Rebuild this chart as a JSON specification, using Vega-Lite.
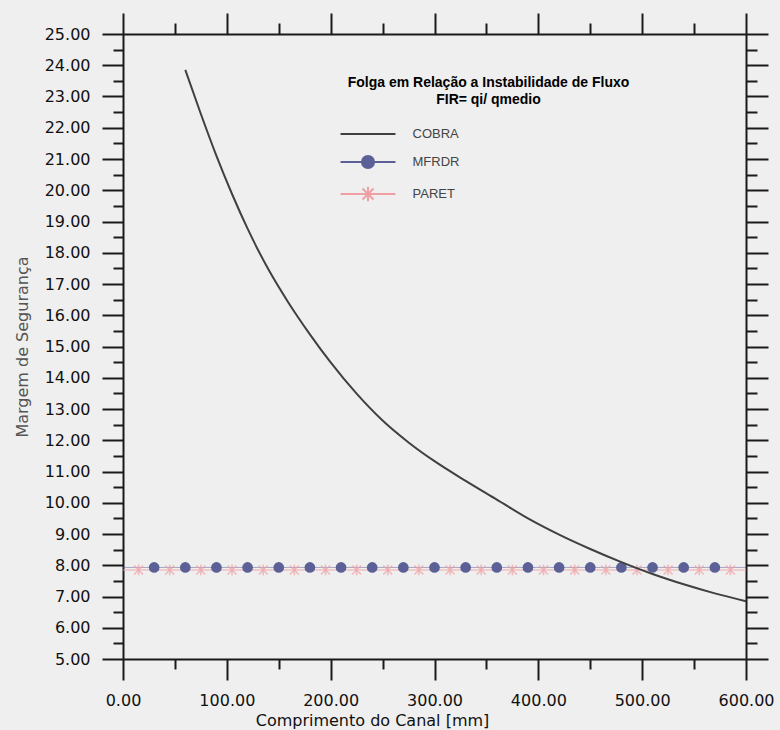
{
  "$schema": "https://vega.github.io/schema/vega-lite/v6.json",
  "width": 623,
  "height": 625,
  "autosize": {"type": "none"},
  "padding": {"left": 123, "top": 34, "right": 34, "bottom": 71},
  "background": "#efefef",
  "config": {"view": {"stroke": null}, "axis": {"grid": false}},
  "data": {"values": [
    {"series": "COBRA", "x": 60, "y": 23.85},
    {"series": "COBRA", "x": 75, "y": 22.44},
    {"series": "COBRA", "x": 90, "y": 21.1},
    {"series": "COBRA", "x": 105, "y": 19.88},
    {"series": "COBRA", "x": 120, "y": 18.77},
    {"series": "COBRA", "x": 140, "y": 17.47},
    {"series": "COBRA", "x": 160, "y": 16.37},
    {"series": "COBRA", "x": 180, "y": 15.39},
    {"series": "COBRA", "x": 200, "y": 14.49},
    {"series": "COBRA", "x": 225, "y": 13.49},
    {"series": "COBRA", "x": 250, "y": 12.63},
    {"series": "COBRA", "x": 275, "y": 11.93},
    {"series": "COBRA", "x": 300, "y": 11.33},
    {"series": "COBRA", "x": 330, "y": 10.7},
    {"series": "COBRA", "x": 360, "y": 10.1},
    {"series": "COBRA", "x": 390, "y": 9.5},
    {"series": "COBRA", "x": 420, "y": 8.98},
    {"series": "COBRA", "x": 450, "y": 8.52},
    {"series": "COBRA", "x": 480, "y": 8.1},
    {"series": "COBRA", "x": 510, "y": 7.72},
    {"series": "COBRA", "x": 540, "y": 7.39},
    {"series": "COBRA", "x": 570, "y": 7.1},
    {"series": "COBRA", "x": 600, "y": 6.85},
    {"series": "MFRDR", "x": 0, "y": 7.93},
    {"series": "MFRDR", "x": 30, "y": 7.93},
    {"series": "MFRDR", "x": 60, "y": 7.93},
    {"series": "MFRDR", "x": 90, "y": 7.93},
    {"series": "MFRDR", "x": 120, "y": 7.93},
    {"series": "MFRDR", "x": 150, "y": 7.93},
    {"series": "MFRDR", "x": 180, "y": 7.93},
    {"series": "MFRDR", "x": 210, "y": 7.93},
    {"series": "MFRDR", "x": 240, "y": 7.93},
    {"series": "MFRDR", "x": 270, "y": 7.93},
    {"series": "MFRDR", "x": 300, "y": 7.93},
    {"series": "MFRDR", "x": 330, "y": 7.93},
    {"series": "MFRDR", "x": 360, "y": 7.93},
    {"series": "MFRDR", "x": 390, "y": 7.93},
    {"series": "MFRDR", "x": 420, "y": 7.93},
    {"series": "MFRDR", "x": 450, "y": 7.93},
    {"series": "MFRDR", "x": 480, "y": 7.93},
    {"series": "MFRDR", "x": 510, "y": 7.93},
    {"series": "MFRDR", "x": 540, "y": 7.93},
    {"series": "MFRDR", "x": 570, "y": 7.93},
    {"series": "MFRDR", "x": 600, "y": 7.93},
    {"series": "PARET", "x": 0, "y": 7.85},
    {"series": "PARET", "x": 15, "y": 7.85},
    {"series": "PARET", "x": 45, "y": 7.85},
    {"series": "PARET", "x": 75, "y": 7.85},
    {"series": "PARET", "x": 105, "y": 7.85},
    {"series": "PARET", "x": 135, "y": 7.85},
    {"series": "PARET", "x": 165, "y": 7.85},
    {"series": "PARET", "x": 195, "y": 7.85},
    {"series": "PARET", "x": 225, "y": 7.85},
    {"series": "PARET", "x": 255, "y": 7.85},
    {"series": "PARET", "x": 285, "y": 7.85},
    {"series": "PARET", "x": 315, "y": 7.85},
    {"series": "PARET", "x": 345, "y": 7.85},
    {"series": "PARET", "x": 375, "y": 7.85},
    {"series": "PARET", "x": 405, "y": 7.85},
    {"series": "PARET", "x": 435, "y": 7.85},
    {"series": "PARET", "x": 465, "y": 7.85},
    {"series": "PARET", "x": 495, "y": 7.85},
    {"series": "PARET", "x": 525, "y": 7.85},
    {"series": "PARET", "x": 555, "y": 7.85},
    {"series": "PARET", "x": 585, "y": 7.85},
    {"series": "PARET", "x": 600, "y": 7.85}
  ]},
  "encoding": {
    "color": {
      "field": "series",
      "type": "nominal",
      "scale": {"domain": ["COBRA", "MFRDR", "PARET"], "range": ["#404040", "#5b6096", "#f0a0a4"]},
      "legend": {
        "orient": "none",
        "legendX": 225,
        "legendY": 42,
        "padding": 0,
        "title": ["Folga em Relação a Instabilidade de Fluxo", "FIR= qi/ qmedio"],
        "titleFont": "Liberation Sans",
        "titleFontSize": 14,
        "titleFontWeight": "bold",
        "titleColor": "#000000",
        "titleLineHeight": 17,
        "titleAnchor": "start",
        "titleAlign": "center",
        "titlePadding": 12,
        "titleLimit": 500,
        "labelFont": "Liberation Sans",
        "labelFontSize": 13,
        "labelColor": "#444444",
        "symbolSize": 100,
        "rowPadding": 6,
        "labelOffset": 29.5,
        "encode": {
          "title": {"update": {"dx": {"value": 135.5}}},
          "symbols": {"update": {
            "shape": {"signal": "datum.value === 'COBRA' ? 'M-2,0H2' : datum.value === 'MFRDR' ? 'M-2,0H2M0.44,0A0.44,0.44 0 1,1 -0.44,0A0.44,0.44 0 1,1 0.44,0Z' : 'M-2,0H2M-0.4,-0.4L0.4,0.4M-0.4,0.4L0.4,-0.4M0,-0.52V0.52'"},
            "size": {"value": 756},
            "strokeWidth": {"value": 2},
            "opacity": {"value": 1}
          }}
        }
      }
    }
  },
  "layer": [
    {
      "transform": [{"filter": "datum.series === 'MFRDR'"}],
      "mark": {"type": "line", "strokeWidth": 1, "opacity": 0.5},
      "encoding": {
        "x": {"field": "x", "type": "quantitative", "scale": {"domain": [0, 600], "nice": false, "zero": false},
          "axis": {"orient": "top", "values": [0,50,100,150,200,250,300,350,400,450,500,550,600], "labels": false, "title": null,
            "tickSize": {"condition": {"test": "datum.value % 100 === 0", "value": 21}, "value": 11},
            "tickWidth": 2, "tickColor": "#1a1a1a", "domainColor": "#1a1a1a", "domainWidth": 2}},
        "y": {"field": "y", "type": "quantitative", "scale": {"domain": [5, 25], "nice": false, "zero": false},
          "axis": {"orient": "right", "values": [5,5.5,6,6.5,7,7.5,8,8.5,9,9.5,10,10.5,11,11.5,12,12.5,13,13.5,14,14.5,15,15.5,16,16.5,17,17.5,18,18.5,19,19.5,20,20.5,21,21.5,22,22.5,23,23.5,24,24.5,25], "labels": false, "title": null,
            "tickSize": {"condition": {"test": "datum.value % 1 === 0", "value": 22}, "value": 11},
            "tickWidth": 2, "tickColor": "#1a1a1a", "domainColor": "#1a1a1a", "domainWidth": 2}}
      }
    },
    {
      "transform": [{"filter": "datum.series === 'PARET'"}],
      "mark": {"type": "line", "strokeWidth": 1.5, "opacity": 0.6},
      "encoding": {
        "x": {"field": "x", "type": "quantitative", "axis": null},
        "y": {"field": "y", "type": "quantitative", "axis": null}
      }
    },
    {
      "transform": [{"filter": "datum.series === 'MFRDR' && datum.x > 0 && datum.x < 600"}],
      "mark": {"type": "point", "shape": "circle", "filled": true, "size": 115, "opacity": 1},
      "encoding": {
        "x": {"field": "x", "type": "quantitative", "axis": null},
        "y": {"field": "y", "type": "quantitative", "axis": null}
      }
    },
    {
      "transform": [{"filter": "datum.series === 'PARET' && datum.x > 0 && datum.x < 600"}],
      "mark": {"type": "point", "shape": "M-1,-1L1,1M-1,1L1,-1M0,-1.2V1.2", "filled": false, "size": 80, "strokeWidth": 1.5, "opacity": 0.7},
      "encoding": {
        "x": {"field": "x", "type": "quantitative", "axis": null},
        "y": {"field": "y", "type": "quantitative", "axis": null}
      }
    },
    {
      "transform": [{"filter": "datum.series === 'COBRA'"}],
      "mark": {"type": "line", "strokeWidth": 2, "interpolate": "monotone"},
      "encoding": {
        "x": {"field": "x", "type": "quantitative",
          "axis": {"orient": "bottom", "values": [0,50,100,150,200,250,300,350,400,450,500,550,600], "format": ".2f", "labelExpr": "datum.value % 100 === 0 ? datum.label : ''",
            "tickSize": {"condition": {"test": "datum.value % 100 === 0", "value": 21}, "value": 10},
            "tickWidth": 2, "tickColor": "#1a1a1a", "domainColor": "#1a1a1a", "domainWidth": 2, "labelFont": "DejaVu Sans", "labelFontSize": 16, "labelColor": "#111111", "labelPadding": 12, "labelOverlap": false, "labelFlush": false, "labelBound": false, "title": "Comprimento do Canal [mm]", "titleFont": "DejaVu Sans", "titleFontSize": 16, "titleFontWeight": "normal", "titleColor": "#111111", "titleX": 249, "titlePadding": 4}},
        "y": {"field": "y", "type": "quantitative",
          "axis": {"orient": "left", "values": [5,5.5,6,6.5,7,7.5,8,8.5,9,9.5,10,10.5,11,11.5,12,12.5,13,13.5,14,14.5,15,15.5,16,16.5,17,17.5,18,18.5,19,19.5,20,20.5,21,21.5,22,22.5,23,23.5,24,24.5,25], "format": ".2f", "labelExpr": "datum.value % 1 === 0 ? datum.label : ''",
            "tickSize": {"condition": {"test": "datum.value % 1 === 0", "value": 21}, "value": 10},
            "tickWidth": 2, "tickColor": "#1a1a1a", "domainColor": "#1a1a1a", "domainWidth": 2, "labelFont": "DejaVu Sans", "labelFontSize": 16, "labelColor": "#111111", "labelPadding": 12, "labelOverlap": false, "labelFlush": false, "labelBound": false, "title": "Margem de Segurança", "titleFont": "DejaVu Sans", "titleFontSize": 16, "titleFontWeight": "normal", "titleColor": "#555555", "titlePadding": 14}}
      }
    }
  ],
  "resolve": {"axis": {"x": "independent", "y": "independent"}}
}
